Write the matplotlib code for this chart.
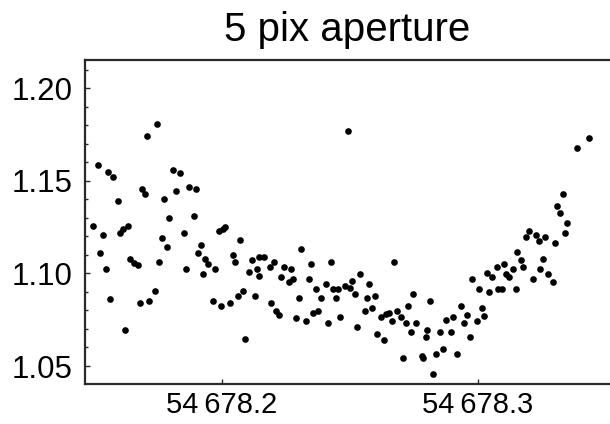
"""
plot.py

Scatter of relative flux against MJD for the 5 pix aperture, saved to out.png.
"""
import matplotlib
import matplotlib.pyplot as plt
from matplotlib.ticker import FixedLocator, MultipleLocator

matplotlib.use("Agg")

plt.rcParams["font.family"] = ["Liberation Sans", "DejaVu Sans"]

# MJD of each sample
mjd = [
    54678.1745, 54678.1707, 54678.1516, 54678.1555, 54678.1573, 54678.1809,
    54678.1688, 54678.1698, 54678.1775, 54678.1820, 54678.1593, 54678.1793,
    54678.1495, 54678.1536, 54678.1603, 54678.1614, 54678.1632, 54678.1766,
    54678.1784, 54678.1525, 54678.1639, 54678.1655, 54678.1671, 54678.1755,
    54678.1547, 54678.1737, 54678.1562, 54678.1680, 54678.1716, 54678.1622,
    54678.1837, 54678.1870, 54678.1898, 54678.1889, 54678.1850, 54678.1987,
    54678.2003, 54678.2013, 54678.2071, 54678.1919, 54678.1906, 54678.1935,
    54678.1945, 54678.1974, 54678.1859, 54678.1926, 54678.2042, 54678.2052,
    54678.2117, 54678.2143, 54678.2164, 54678.2107, 54678.2137, 54678.2146,
    54678.2081, 54678.2061, 54678.1965, 54678.1995, 54678.2032, 54678.2128,
    54678.2089, 54678.2307, 54678.2203, 54678.2186, 54678.2242, 54678.2271,
    54678.2232, 54678.2261, 54678.2279, 54678.2346, 54678.2425, 54678.2339,
    54678.2368, 54678.2407, 54678.2434, 54678.2453, 54678.2482, 54678.2300,
    54678.2386, 54678.2444, 54678.2193, 54678.2212, 54678.2221, 54678.2290,
    54678.2329, 54678.2355, 54678.2375, 54678.2414, 54678.2460, 54678.2491,
    54678.2672, 54678.2539, 54678.2509, 54678.2500, 54678.2520, 54678.2574,
    54678.2565, 54678.2596, 54678.2557, 54678.2587, 54678.2747, 54678.2727,
    54678.2813, 54678.2620, 54678.2639, 54678.2652, 54678.2682, 54678.2665,
    54678.2700, 54678.2718, 54678.2757, 54678.2737, 54678.2529, 54678.2604,
    54678.2633, 54678.2802, 54678.2796, 54678.2708, 54678.2780, 54678.2786,
    54678.2823, 54678.3154, 54678.3102, 54678.3073, 54678.3034, 54678.3054,
    54678.3109, 54678.3120, 54678.3138, 54678.2975, 54678.3005, 54678.3044,
    54678.3079, 54678.3093, 54678.3148, 54678.2934, 54678.3014, 54678.2958,
    54678.3023, 54678.2875, 54678.2901, 54678.2946, 54678.2995, 54678.2852,
    54678.2893, 54678.2969, 54678.2836, 54678.2862, 54678.2919, 54678.3435,
    54678.3386, 54678.3331, 54678.3309, 54678.3320, 54678.3348, 54678.3341,
    54678.3198, 54678.3188, 54678.3227, 54678.3237, 54678.3263, 54678.3302,
    54678.3168, 54678.3177, 54678.3255, 54678.3243, 54678.3272, 54678.3292,
    54678.3216,
]

# relative flux of each sample
flux = [
    1.1806, 1.1743, 1.1586, 1.1547, 1.1518, 1.1557, 1.1455, 1.1428, 1.1401,
    1.1443, 1.1389, 1.1297, 1.1257, 1.1205, 1.1219, 1.1237, 1.1257, 1.1191,
    1.1140, 1.1111, 1.1076, 1.1057, 1.1046, 1.1059, 1.1022, 1.0903, 1.0863,
    1.0838, 1.0851, 1.0694, 1.1543, 1.1467, 1.1453, 1.1309, 1.1216, 1.1230,
    1.1237, 1.1248, 1.1180, 1.1153, 1.1111, 1.1076, 1.1050, 1.1022, 1.1022,
    1.0996, 1.1100, 1.1059, 1.1072, 1.1090, 1.1090, 1.1007, 1.1022, 1.0985,
    1.0904, 1.0877, 1.0852, 1.0825, 1.0841, 1.0877, 1.0644, 1.1130, 1.1063,
    1.1032, 1.1036, 1.1022, 1.0982, 1.0953, 1.0969, 1.1049, 1.1063, 1.0971,
    1.0917, 1.0942, 1.0917, 1.0917, 1.0931, 1.0865, 1.0865, 1.0865, 1.0838,
    1.0798, 1.0775, 1.0760, 1.0744, 1.0784, 1.0798, 1.0733, 1.0763, 1.1768,
    1.1061, 1.0996, 1.0960, 1.0919, 1.0888, 1.0942, 1.0865, 1.0877, 1.0798,
    1.0814, 1.0888, 1.0825, 1.0852, 1.0763, 1.0780, 1.0787, 1.0798, 1.0744,
    1.0763, 1.0733, 1.0733, 1.0682, 1.0709, 1.0671, 1.0640, 1.0694, 1.0655,
    1.0541, 1.0554, 1.0541, 1.0457, 1.1117, 1.1050, 1.1032, 1.1000, 1.0982,
    1.0996, 1.0978, 1.1022, 1.0969, 1.0917, 1.0901, 1.0917, 1.0917, 1.0917,
    1.0825, 1.0814, 1.0775, 1.0771, 1.0748, 1.0763, 1.0730, 1.0743, 1.0682,
    1.0682, 1.0655, 1.0563, 1.0590, 1.0563, 1.1729, 1.1676, 1.1428, 1.1363,
    1.1324, 1.1270, 1.1216, 1.1227, 1.1194, 1.1207, 1.1176, 1.1194, 1.1165,
    1.1072, 1.1036, 1.1076, 1.1022, 1.0996, 1.0955, 1.0969,
]

x_ticks = [54678.2, 54678.3]
x_tick_labels = ["54\u2009678.2", "54\u2009678.3"]
y_ticks = [1.05, 1.10, 1.15, 1.20]
y_tick_labels = ["1.05", "1.10", "1.15", "1.20"]

fig = plt.figure(figsize=(6.10, 4.24), dpi=100)
ax = fig.add_axes([85 / 610, 40 / 424, 1 - 85 / 610, 324.5 / 424])

ax.plot(mjd, flux, "o", color="black", markersize=4.8, markeredgewidth=0)

ax.set_xlim(54678.1465, 54678.3516)
ax.set_ylim(1.0403, 1.2154)

ax.xaxis.set_major_locator(FixedLocator(x_ticks))
ax.set_xticklabels(x_tick_labels)
ax.yaxis.set_major_locator(FixedLocator(y_ticks))
ax.set_yticklabels(y_tick_labels)
ax.yaxis.set_minor_locator(MultipleLocator(0.01))

# Mathematica-like frame: inward ticks, no right edge visible
for side in ["left", "bottom", "top"]:
    ax.spines[side].set_linewidth(1.6)
    ax.spines[side].set_color("#2a2a2a")
ax.spines["right"].set_visible(False)

ax.tick_params(axis="y", which="major", direction="in", length=3.5,
               width=1, color="#2a2a2a", labelsize=22.5, pad=9)
ax.tick_params(axis="x", which="major", direction="in", length=3.5,
               width=1, color="#2a2a2a", labelsize=21, pad=5)
ax.tick_params(axis="y", which="minor", direction="in", length=2.5,
               width=1, color="#2a2a2a")

ax.set_title("5 pix aperture", fontsize=29, pad=13)

fig.savefig("out.png", dpi=100)
